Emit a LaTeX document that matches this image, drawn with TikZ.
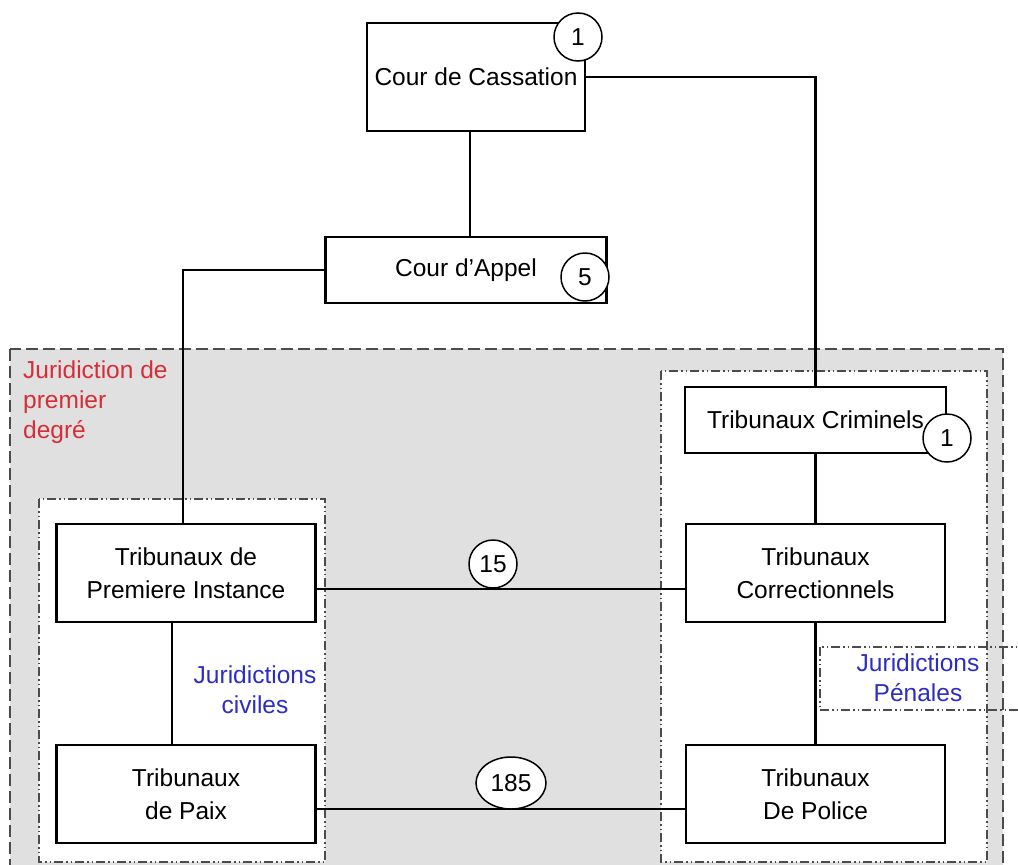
\documentclass[tikz,border=0pt]{standalone}
\usepackage{fontspec}
\setmainfont{Liberation Sans}
\usetikzlibrary{shapes,calc,positioning}
\definecolor{fondgris}{RGB}{224,224,224}
\definecolor{rougejur}{RGB}{215,45,55}
\definecolor{bleujur}{RGB}{45,45,195}
\tikzset{
    auto,semithick,
    court/.style ={rectangle, draw, line width=2.8pt, fill=white, minimum width=259pt, minimum height=98pt, align=center, font=\fontsize{24.5}{33}\selectfont},
    nb/.style = {circle, draw, line width=1.5pt, fill=white, minimum size=48pt, inner sep=0pt, font=\fontsize{24.5}{28}\selectfont},
    link/.style = {line width=2.4pt},
    zone/.style = {draw=black!70, line width=1.5pt, dash pattern=on 9pt off 3pt on 1.5pt off 3pt on 1.5pt off 3pt},
    titre/.style = {inner sep=0pt, align=left, font=\fontsize{24.5}{30}\selectfont}
}

\begin{document}
\begin{tikzpicture}[x=1pt,y=-1pt]
    \useasboundingbox (0,0) rectangle (1018,865);
    \clip (0,0) rectangle (1018,865);

    % zones
    \draw[fill=fondgris, draw=black!70, line width=1.8pt, dash pattern=on 12pt off 5pt] (10,349) rectangle (1003,900);
    \draw[zone, fill=white] (39,499) rectangle (325,862);
    \draw[zone, fill=white] (661,371) rectangle (987,862);
    \draw[zone] (820,647) rectangle (1040,710);

    \node[titre, text=rougejur, anchor=north west] (premier) at (23,361) {Juridiction de\\premier\\degré};
    \node[titre, text=bleujur, align=center] (civiles) at (255,690) {Juridictions\\civiles};
    \node[titre, text=bleujur, align=center] (penales) at (918,678) {Juridictions\\Pénales};

    % tribunaux
    \node[court, minimum width=218pt, minimum height=108pt] (cass) at (476,77) {Cour de Cassation};
    \node[court, minimum width=281pt, minimum height=66pt] (appel) at (466,270) {Cour d’Appel};
    \node[court, minimum width=261pt, minimum height=66pt] (crim) at (815.5,420) {Tribunaux Criminels};
    \node[court] (correct) at (815.5,573) {Tribunaux\\Correctionnels};
    \node[court] (police) at (815.5,794) {Tribunaux\\De Police};
    \node[court] (premiere) at (186,573) {Tribunaux de\\Premiere Instance};
    \node[court] (paix) at (186,794) {Tribunaux\\de Paix};

    \draw[link] ([xshift=-6pt]cass.south) -- ([xshift=-6pt]cass.south |- appel.north);
    \draw[link] (cass.east) -| (crim.north);
    \draw[link] (appel.west) -| ([xshift=-3pt]premiere.north);
    \draw[link] (crim.south) -- (correct.north);
    \draw[link] (correct.south) -- (police.north);
    \draw[link] ([xshift=-14pt]premiere.south) -- ([xshift=-14pt]premiere.south |- paix.north);
    \draw[link] ([yshift=-16pt]premiere.east) -- ([yshift=-16pt]premiere.east -| correct.west);
    \draw[link] ([yshift=-15pt]paix.east) -- ([yshift=-15pt]paix.east -| police.west);

    % nombres
    \node[nb] (n1) at (578,37) {1};
    \node[nb] (n5) at (585,277) {5};
    \node[nb] (n2) at (947,438) {1};
    \node[nb] (n15) at (493,564) {15};
    \node[nb, ellipse, minimum width=70pt, minimum height=52pt] (n185) at (511,783) {185};
\end{tikzpicture}
\end{document}
